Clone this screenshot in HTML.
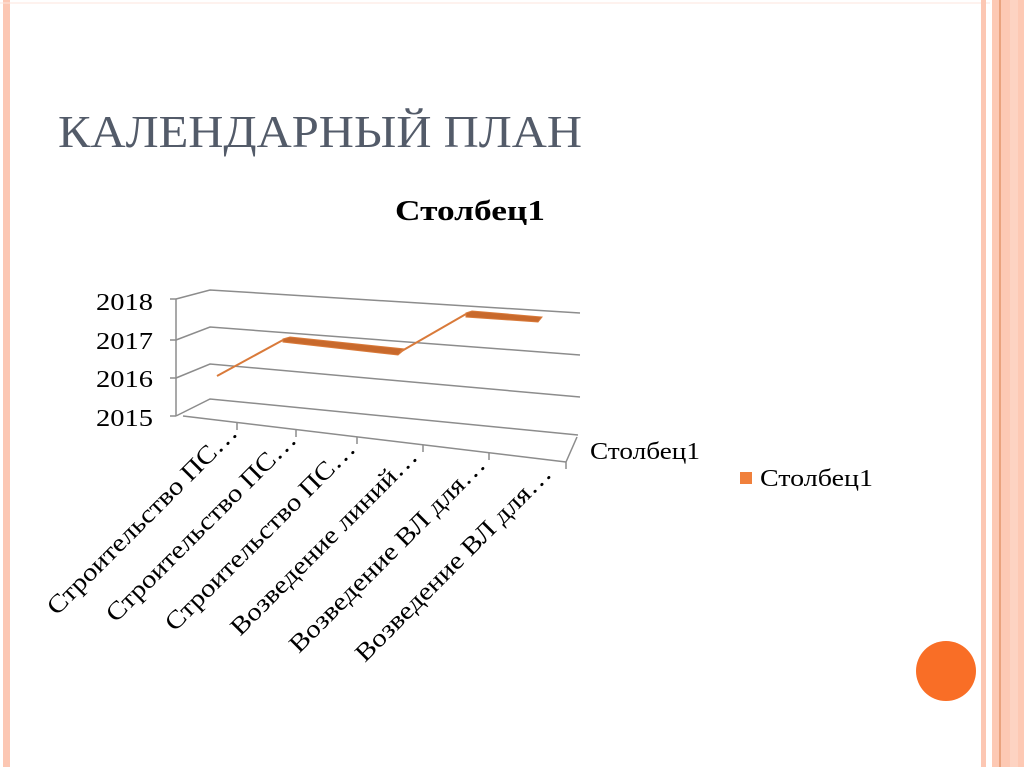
<!DOCTYPE html>
<html><head><meta charset="utf-8"><style>
html,body{margin:0;padding:0;background:#fff}
svg{display:block}
text{font-family:"Liberation Serif","DejaVu Serif",serif}
</style></head><body>
<svg width="1024" height="767" viewBox="0 0 1024 767" xmlns="http://www.w3.org/2000/svg">
<rect width="1024" height="767" fill="#fff"/>
<rect x="3" y="0" width="7" height="767" fill="#fcc7b3"/>
<line x1="0" y1="3" x2="990" y2="3" stroke="#fde6dc" stroke-width="1"/>
<rect x="981" y="0" width="5" height="767" fill="#fcc7b3"/>
<rect x="992" y="0" width="32" height="767" fill="#fdc9b4"/>
<rect x="999" y="0" width="2" height="767" fill="#eaa37e"/>
<rect x="1010" y="0" width="8" height="767" fill="#fdd3c2"/>
<text x="58" y="147" font-size="46" fill="#535b69" textLength="524" lengthAdjust="spacingAndGlyphs">КАЛЕНДАРНЫЙ ПЛАН</text>
<text x="395" y="220" font-size="28" font-weight="bold" fill="#000" textLength="150" lengthAdjust="spacingAndGlyphs">Столбец1</text>
<g stroke="#8c8c8c" stroke-width="1.5" fill="none">
<polyline points="176,299 210,290 580,313"/>
<polyline points="176,340 210,327 580,355"/>
<polyline points="176,378 210,364 580,397"/>
<polyline points="176,416 210,399 578,435"/>
<line x1="176" y1="299" x2="176" y2="416"/>
<line x1="170" y1="299" x2="176" y2="299"/>
<line x1="170" y1="340" x2="176" y2="340"/>
<line x1="170" y1="378" x2="176" y2="378"/>
<line x1="170" y1="416" x2="176" y2="416"/>
<line x1="183" y1="416" x2="566" y2="462"/>
<line x1="566" y1="462" x2="577" y2="437"/>
<line x1="566" y1="462" x2="566" y2="469"/>
<line x1="237" y1="423" x2="237" y2="430"/>
<line x1="296" y1="430" x2="296" y2="437"/>
<line x1="357" y1="437" x2="357" y2="444"/>
<line x1="423" y1="445" x2="423" y2="452"/>
<line x1="489" y1="453" x2="489" y2="460"/>
</g>
<g fill="#c8692c" stroke="#d97a3a" stroke-width="1">
<line x1="217" y1="376" x2="283" y2="340" stroke-width="2"/>
<polygon points="283,339 290,337 405,349 398,355 283,342"/>
<line x1="400" y1="352" x2="466" y2="314" stroke-width="2"/>
<polygon points="466,313 472,311 542,317 538,322 466,317"/>
</g>
<g font-size="24" fill="#000" text-anchor="end">
<text x="153" y="310" textLength="57" lengthAdjust="spacingAndGlyphs">2018</text>
<text x="153" y="349" textLength="57" lengthAdjust="spacingAndGlyphs">2017</text>
<text x="153" y="387" textLength="57" lengthAdjust="spacingAndGlyphs">2016</text>
<text x="153" y="426" textLength="57" lengthAdjust="spacingAndGlyphs">2015</text>
</g>
<g font-size="25" fill="#000" text-anchor="end">
<text transform="translate(239,434) rotate(-45)" textLength="258" lengthAdjust="spacingAndGlyphs">Строительство ПС…</text>
<text transform="translate(298,441) rotate(-45)" textLength="258" lengthAdjust="spacingAndGlyphs">Строительство ПС…</text>
<text transform="translate(357,450) rotate(-45)" textLength="258" lengthAdjust="spacingAndGlyphs">Строительство ПС…</text>
<text transform="translate(419,458) rotate(-45)" textLength="253" lengthAdjust="spacingAndGlyphs">Возведение линий…</text>
<text transform="translate(487,466) rotate(-45)" textLength="266" lengthAdjust="spacingAndGlyphs">Возведение ВЛ для…</text>
<text transform="translate(553,475) rotate(-45)" textLength="266" lengthAdjust="spacingAndGlyphs">Возведение ВЛ для…</text>
</g>
<text x="590" y="459" font-size="24" fill="#000" textLength="110" lengthAdjust="spacingAndGlyphs">Столбец1</text>
<rect x="740" y="472" width="12" height="12" fill="#f0803c"/>
<text x="760" y="486" font-size="24" fill="#000" textLength="113" lengthAdjust="spacingAndGlyphs">Столбец1</text>
<circle cx="946" cy="671" r="30" fill="#f96e26"/>
</svg>
</body></html>
